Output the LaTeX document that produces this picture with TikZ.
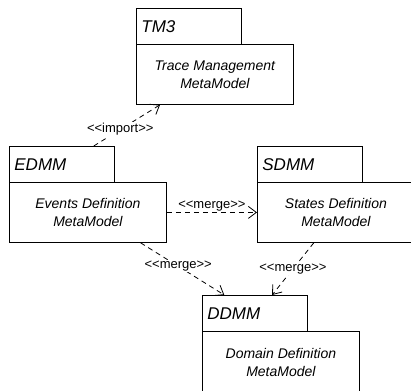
\documentclass[tikz,border=0pt]{standalone}
\usepackage{fontspec}
\setmainfont{Liberation Sans}
\usetikzlibrary{arrows.meta}

\tikzset{
	pkgtab/.style={draw,line width=0.8pt,anchor=north west,inner xsep=5pt,inner ysep=0pt,
		minimum height=36pt,align=left,font=\fontsize{17}{20}\selectfont\itshape},
	pkgbody/.style={draw,line width=0.8pt,anchor=north west,inner sep=0pt,minimum width=157pt,
		minimum height=60pt,align=center,font=\fontsize{14}{18}\selectfont\itshape},
	dep/.style={line width=0.8pt,dash pattern=on 5pt off 4pt,-{Straight Barb[length=8pt,width=12pt]}},
	stereo/.style={font=\fontsize{13}{15}\selectfont,inner sep=1pt}
}

\begin{document}
\begin{tikzpicture}[x=1pt,y=-1pt]
	\useasboundingbox (0,0) rectangle (411,390);
	% packages
	\node[pkgtab,text width=95pt] (tm3tab) at (136,8) {TM3};
	\node[pkgbody] (tm3) at (136,44) {Trace Management\\MetaModel};
	\node[pkgtab,text width=95pt] (edmmtab) at (9,146) {EDMM};
	\node[pkgbody] (edmm) at (9,182) {Events Definition\\MetaModel};
	\node[pkgtab,text width=95pt] (sdmmtab) at (257,146) {SDMM};
	\node[pkgbody] (sdmm) at (257,182) {States Definition\\MetaModel};
	\node[pkgtab,text width=95pt] (ddmmtab) at (202,295) {DDMM};
	\node[pkgbody,minimum height=62pt] (ddmm) at (202,331) {Domain Definition\\MetaModel};
	% dependencies
	\draw[dep] (edmmtab.30) -- node[stereo,fill=white,pos=0.4] {<{}<import>{}>} (tm3.209);
	\draw[dep] (edmm.east) -- node[stereo,above] {<{}<merge>{}>} (sdmm.west);
	\draw[dep] (edmm.-30) -- node[stereo,fill=white,pos=0.45] {<{}<merge>{}>} (ddmmtab.149);
	\draw[dep] (sdmm.-126) -- node[stereo,fill=white] {<{}<merge>{}>} (ddmmtab.47);
\end{tikzpicture}
\end{document}
